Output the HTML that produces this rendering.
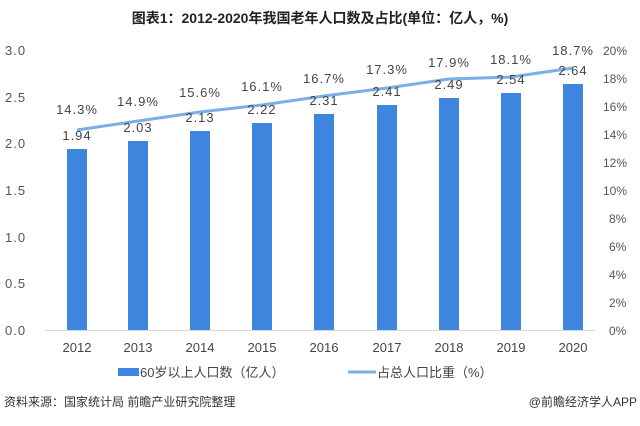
<!DOCTYPE html>
<html><head><meta charset="utf-8"><style>
body{margin:0;background:#fff;}
svg text{font-family:"Liberation Sans","Noto Sans CJK SC",sans-serif;}
</style></head><body>
<svg width="640" height="421" viewBox="0 0 640 421" xmlns="http://www.w3.org/2000/svg">
<rect width="640" height="421" fill="#fff"/>
<text x="320" y="23" text-anchor="middle" font-size="14" font-weight="bold" fill="#222">图表1：2012-2020年我国老年人口数及占比(单位：亿人，%)</text>
<g font-size="13" fill="#555" letter-spacing="1">
<text x="5" y="55">3.0</text><text x="5" y="102">2.5</text><text x="5" y="148">2.0</text>
<text x="5" y="195">1.5</text><text x="5" y="242">1.0</text><text x="5" y="288">0.5</text><text x="5" y="335">0.0</text>
</g>
<g font-size="12" fill="#555">
<text x="603" y="55">20%</text><text x="603" y="83">18%</text><text x="603" y="111">16%</text><text x="603" y="139">14%</text>
<text x="603" y="167">12%</text><text x="603" y="195">10%</text><text x="609" y="223">8%</text><text x="609" y="251">6%</text>
<text x="609" y="279">4%</text><text x="609" y="307">2%</text><text x="609" y="335">0%</text>
</g>
<line x1="45" y1="330.5" x2="595" y2="330.5" stroke="#d9d9d9" stroke-width="1"/>
<g fill="#3f86e0">
<rect x="67" y="149" width="20" height="181"/>
<rect x="128" y="141" width="20" height="189"/>
<rect x="190" y="131" width="20" height="199"/>
<rect x="252" y="123" width="20" height="207"/>
<rect x="314" y="114" width="20" height="216"/>
<rect x="377" y="105" width="20" height="225"/>
<rect x="439" y="98" width="20" height="232"/>
<rect x="501" y="93" width="20" height="237"/>
<rect x="563" y="84" width="20" height="246"/>
</g>
<polyline fill="none" stroke="#7aaee6" stroke-width="3" stroke-linejoin="round" points="77,130 138,121 200,112 262,105 324,96 387,88 449,79 511,77 573,68"/>
<g font-size="13" fill="#444" text-anchor="middle" letter-spacing="1">
<text x="77" y="140">1.94</text><text x="138" y="132">2.03</text><text x="200" y="122">2.13</text>
<text x="262" y="114">2.22</text><text x="324" y="105">2.31</text><text x="387" y="96">2.41</text>
<text x="449" y="89">2.49</text><text x="511" y="84">2.54</text><text x="573" y="75">2.64</text>
<text x="77" y="114">14.3%</text><text x="138" y="106">14.9%</text><text x="200" y="97">15.6%</text>
<text x="262" y="91">16.1%</text><text x="324" y="83">16.7%</text><text x="387" y="74">17.3%</text>
<text x="449" y="67">17.9%</text><text x="511" y="64">18.1%</text><text x="573" y="55">18.7%</text>
</g>
<g font-size="13" fill="#444" text-anchor="middle">
<text x="77" y="352">2012</text><text x="138" y="352">2013</text><text x="200" y="352">2014</text>
<text x="262" y="352">2015</text><text x="324" y="352">2016</text><text x="387" y="352">2017</text>
<text x="449" y="352">2018</text><text x="511" y="352">2019</text><text x="573" y="352">2020</text>
</g>
<rect x="118" y="368" width="21" height="8" fill="#3f86e0"/>
<text x="140" y="377" font-size="13" fill="#444">60岁以上人口数（亿人）</text>
<line x1="348" y1="372" x2="376" y2="372" stroke="#7aaee6" stroke-width="3"/>
<text x="377" y="377" font-size="13" fill="#444">占总人口比重（%）</text>
<text x="4" y="406" font-size="12" fill="#333">资料来源：国家统计局 前瞻产业研究院整理</text>
<text x="637" y="406" font-size="12" fill="#333" text-anchor="end">@前瞻经济学人APP</text>
</svg>
</body></html>
